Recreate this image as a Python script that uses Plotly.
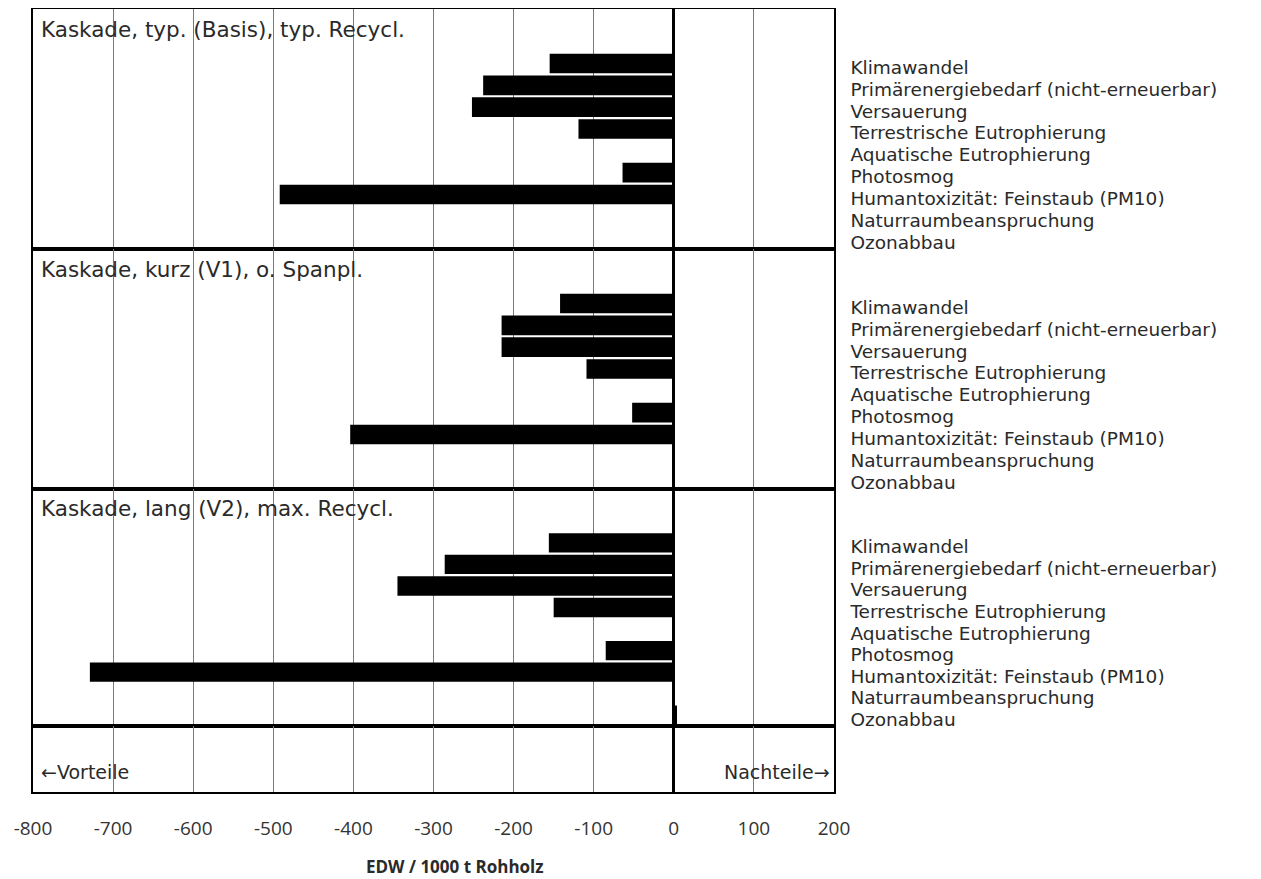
import plotly.graph_objects as go
from plotly.subplots import make_subplots

# impact categories, top to bottom in every block
categories = [
    "Klimawandel",
    "Primärenergiebedarf (nicht-erneuerbar)",
    "Versauerung",
    "Terrestrische Eutrophierung",
    "Aquatische Eutrophierung",
    "Photosmog",
    "Humantoxizität: Feinstaub (PM10)",
    "Naturraumbeanspruchung",
    "Ozonabbau",
]

scenarios = [
    "Kaskade, typ. (Basis), typ. Recycl.",
    "Kaskade, kurz (V1), o. Spanpl.",
    "Kaskade, lang (V2), max. Recycl.",
]

# EDW / 1000 t Rohholz
basis = [-155, -238, -252, -119, 0, -64, -492, 0, 0]
kurz_v1 = [-142, -215, -215, -109, 0, -52, -404, 0, 0]
lang_v2 = [-156, -286, -345, -150, 0, -85, -729, 0, 4]

x_ticks = [-800, -700, -600, -500, -400, -300, -200, -100, 0, 100, 200]
x_ticktext = ["-800", "-700", "-600", "-500", "-400", "-300", "-200", "-100",
              "0", "100", "200"]

FONT = "Open Sans"
WIDE = "DejaVu Sans"
TXT = "#2a2a2a"

fig = make_subplots(rows=4, cols=1, shared_xaxes=True, vertical_spacing=0,
                    row_heights=[240, 240, 237, 66])

for i, vals in enumerate([basis, kurz_v1, lang_v2]):
    row = i + 1
    fig.add_trace(go.Bar(x=vals, y=list(range(len(categories))),
                         orientation="h", marker_color="black",
                         marker_line_width=0, width=0.9,
                         showlegend=False), row=row, col=1)
    fig.update_yaxes(row=row, col=1, range=[8.5, -2.5],
                     tickvals=list(range(len(categories))),
                     ticktext=categories, side="right",
                     ticklabelstandoff=11, ticklabelshift=-4,
                     tickfont=dict(family=WIDE, size=18.5, color=TXT))
    fig.add_annotation(text=scenarios[i], xref="x", x=-792,
                       yref="y%s domain" % ("" if row == 1 else row),
                       y=1 - 20 / 240, xanchor="left", yanchor="middle",
                       showarrow=False,
                       font=dict(family=WIDE, size=21.5, color=TXT))

# bottom strip with the direction hints
fig.add_trace(go.Scatter(x=[None], y=[None], showlegend=False), row=4, col=1)
fig.update_yaxes(row=4, col=1, range=[0, 1], showticklabels=False)
fig.add_annotation(text="\u2190Vorteile", xref="x", x=-792,
                   yref="y4 domain", y=0.30, xanchor="left", yanchor="middle",
                   showarrow=False, font=dict(family=WIDE, size=19, color=TXT))
fig.add_annotation(text="Nachteile\u2192", xref="x", x=197,
                   yref="y4 domain", y=0.30, xanchor="right",
                   yanchor="middle", showarrow=False,
                   font=dict(family=WIDE, size=19, color=TXT))

# axis title, sitting a little right of the plot centre
fig.add_annotation(text="<b>EDW / 1000 t Rohholz</b>", xref="x", x=-273,
                   yref="paper", y=-0.095, xanchor="center",
                   yanchor="middle", showarrow=False,
                   font=dict(family=FONT, size=17, color=TXT))

fig.update_yaxes(showgrid=False, zeroline=False, ticks="", automargin=False,
                 showline=True, mirror=True, linecolor="black", linewidth=1.5)
fig.update_xaxes(range=[-800, 200], tickvals=x_ticks, ticktext=x_ticktext,
                 showgrid=True, gridcolor="#7a7a7a", gridwidth=1,
                 zeroline=True, zerolinecolor="black", zerolinewidth=3,
                 showline=True, mirror=True, linecolor="black", linewidth=1.5,
                 showticklabels=False, ticks="", automargin=False)
fig.update_xaxes(row=4, col=1, showticklabels=True, ticks="outside",
                 ticklen=18, tickcolor="rgba(0,0,0,0)",
                 tickfont=dict(family=FONT, size=19, color="#333333"))

# the page body adds a few px on the top and left
fig.update_layout(width=1261, height=879, bargap=0.08,
                  margin=dict(l=25, r=435, t=1, b=95),
                  paper_bgcolor="white", plot_bgcolor="white")

fig.write_html("out.html")
